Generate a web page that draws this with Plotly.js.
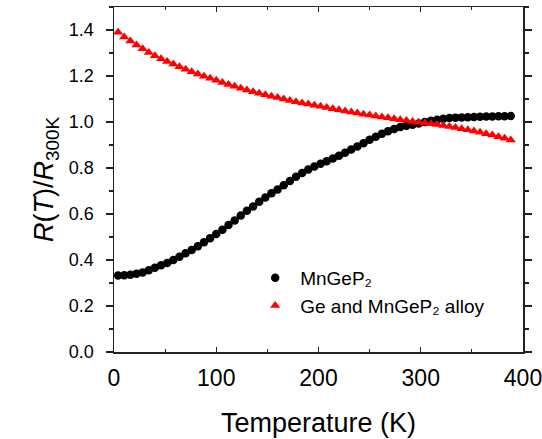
<!DOCTYPE html>
<html>
<head>
<meta charset="utf-8">
<script src="https://cdn.plot.ly/plotly-3.0.1.min.js"></script>
<style>html,body{margin:0;padding:0;background:#fff;}#chart{width:542px;height:439px;}</style>
</head>
<body>
<div id="chart"></div>
<script>
var temperature = [4,10,16,22,28,34,40,46,52,58,64,70,76,82,88,94,100,106,112,118,124,130,136,142,148,154,160,166,172,178,184,190,196,202,208,214,220,226,232,238,244,250,256,262,268,274,280,286,292,298,304,310,316,322,328,334,340,346,352,358,364,370,376,382,388];
var mngep2 = [0.333,0.334,0.336,0.340,0.346,0.355,0.366,0.377,0.387,0.400,0.414,0.429,0.444,0.460,0.477,0.495,0.513,0.532,0.552,0.572,0.593,0.614,0.633,0.653,0.672,0.690,0.707,0.725,0.743,0.762,0.778,0.793,0.807,0.818,0.829,0.841,0.853,0.866,0.880,0.894,0.908,0.923,0.936,0.949,0.960,0.970,0.978,0.984,0.988,0.994,1.000,1.005,1.010,1.014,1.017,1.019,1.020,1.021,1.022,1.023,1.024,1.024,1.025,1.025,1.026];
var alloy = [1.390,1.370,1.352,1.335,1.318,1.302,1.288,1.275,1.263,1.252,1.240,1.229,1.219,1.209,1.199,1.190,1.181,1.172,1.163,1.155,1.147,1.139,1.132,1.125,1.118,1.112,1.106,1.100,1.094,1.088,1.083,1.078,1.073,1.068,1.063,1.058,1.053,1.048,1.043,1.039,1.034,1.030,1.026,1.022,1.018,1.014,1.010,1.006,1.002,0.999,0.996,0.992,0.989,0.985,0.980,0.976,0.971,0.966,0.961,0.955,0.949,0.943,0.936,0.929,0.922];
var seriesNames = ['MnGeP\u2082', 'Ge and MnGeP\u2082 alloy'];
var xTicks = [0,100,200,300,400];
var yTicks = [0.0,0.2,0.4,0.6,0.8,1.0,1.2,1.4];

var fam = "'Liberation Sans', Arial, sans-serif";
var traces = [
  {x: temperature, y: mngep2, name: seriesNames[0], type: 'scatter', mode: 'markers',
   marker: {symbol: 'circle', size: 8.5, color: '#000'}},
  {x: temperature, y: alloy, name: seriesNames[1], type: 'scatter', mode: 'markers',
   marker: {symbol: 'triangle-up', size: 9, color: '#ff0000'}}
];
var layout = {
  width: 542, height: 439,
  margin: {l: 114, r: 19, t: 7, b: 86.5},
  paper_bgcolor: '#fff', plot_bgcolor: '#fff',
  font: {family: fam, color: '#000'},
  showlegend: true,
  legend: {x: 0.333, y: 0.27, xanchor: 'left', yanchor: 'top', bgcolor: 'rgba(0,0,0,0)',
           itemwidth: 40, font: {family: fam, size: 19, color: '#000'}, tracegroupgap: 0},
  xaxis: {
    range: [0, 400], tickvals: xTicks, ticktext: xTicks.map(String),
    showgrid: false, zeroline: false, showline: true, linecolor: '#222', linewidth: 1.5,
    mirror: 'ticks', ticks: 'inside', ticklen: 5, tickwidth: 1.2, tickcolor: '#222',
    minor: {dtick: 50, ticks: 'inside', ticklen: 3, tickwidth: 1.2, tickcolor: '#222', showgrid: false},
    ticklabelstandoff: 5, ticklabeloverflow: 'allow',
    tickfont: {family: fam, size: 23, color: '#000'},
    title: {text: 'Temperature (K)', font: {family: fam, size: 27, color: '#000'}, standoff: 23}
  },
  yaxis: {
    range: [0, 1.5], tickvals: yTicks, ticktext: yTicks.map(function(v){return v.toFixed(1);}),
    showgrid: false, zeroline: false, showline: true, linecolor: '#222', linewidth: 1.5,
    mirror: 'ticks', ticks: 'outside', ticklen: 7, tickwidth: 1.2, tickcolor: '#222',
    minor: {dtick: 0.1, ticks: 'outside', ticklen: 4, tickwidth: 1.2, tickcolor: '#222', showgrid: false},
    ticklabelstandoff: 8,
    tickfont: {family: fam, size: 18, color: '#000'},
    title: {text: '<i>R</i>(<i>T</i>)/<i>R</i><sub>300K</sub>', font: {family: fam, size: 27, color: '#000'}, standoff: 7}
  }
};
Plotly.newPlot('chart', traces, layout, {displayModeBar: false, staticPlot: true});
</script>
</body>
</html>
